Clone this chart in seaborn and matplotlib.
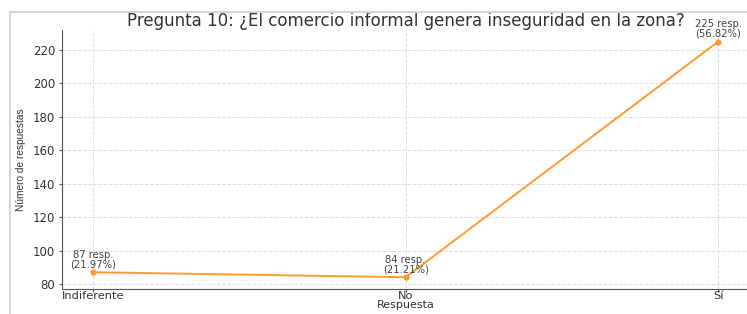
import matplotlib
matplotlib.use('Agg')
import matplotlib.pyplot as plt
import matplotlib.patches as patches
import seaborn as sns
import pandas as pd

respuestas = ['Indiferente', 'No', 'Sí']
conteos = [87, 84, 225]

total = sum(conteos)
porcentajes = [c / total * 100 for c in conteos]

df = pd.DataFrame({'Respuesta': respuestas, 'Conteo': conteos})

sns.set_style('ticks')
plt.rcParams['font.family'] = ['DejaVu Sans']

fig = plt.figure(figsize=(7.47, 3.14), dpi=100)
ax = fig.add_axes([0.083, 0.0796, 0.92, 0.825])

sns.lineplot(data=df, x='Respuesta', y='Conteo', color='#ff9a2a', marker='o',
             markersize=4.5, markeredgewidth=0, linewidth=1.4, sort=False, ax=ax)

for i, (c, p) in enumerate(zip(conteos, porcentajes)):
    ax.annotate(f'{c} resp.\n({p:.2f}%)', (i, c), xytext=(0, 2), textcoords='offset points',
                ha='center', va='bottom', fontsize=7.2, color='#444444', linespacing=0.95)

ax.grid(True, linestyle='--', color='#dddddd', linewidth=0.7)
ax.set_axisbelow(True)
sns.despine(ax=ax, top=True, right=True)
ax.spines['left'].set_color('#555555')
ax.spines['bottom'].set_color('#555555')
ax.tick_params(axis='both', labelsize=8.5, colors='#555555', labelcolor='#333333', length=2)
ax.tick_params(axis='x', labelsize=8.2, pad=-0.5)
ax.tick_params(axis='y', pad=3)

ax.set_title('Pregunta 10: ¿El comercio informal genera inseguridad en la zona?',
             fontsize=12, color='#333333', pad=0)
ax.set_xlabel('Respuesta', fontsize=8, color='#333333', labelpad=-0.8)
ax.set_ylabel('Número de respuestas', fontsize=7.3, color='#333333',
              family=['Liberation Sans'], labelpad=5)

# marco claro alrededor de la captura
fig.patches.append(patches.Rectangle((10 / 747, -0.2), 1.2, (314 - 12) / 314 + 0.2,
                                     transform=fig.transFigure, fill=False,
                                     edgecolor='#d6d6d6', linewidth=1.5))

fig.savefig('out.png', dpi=100)
